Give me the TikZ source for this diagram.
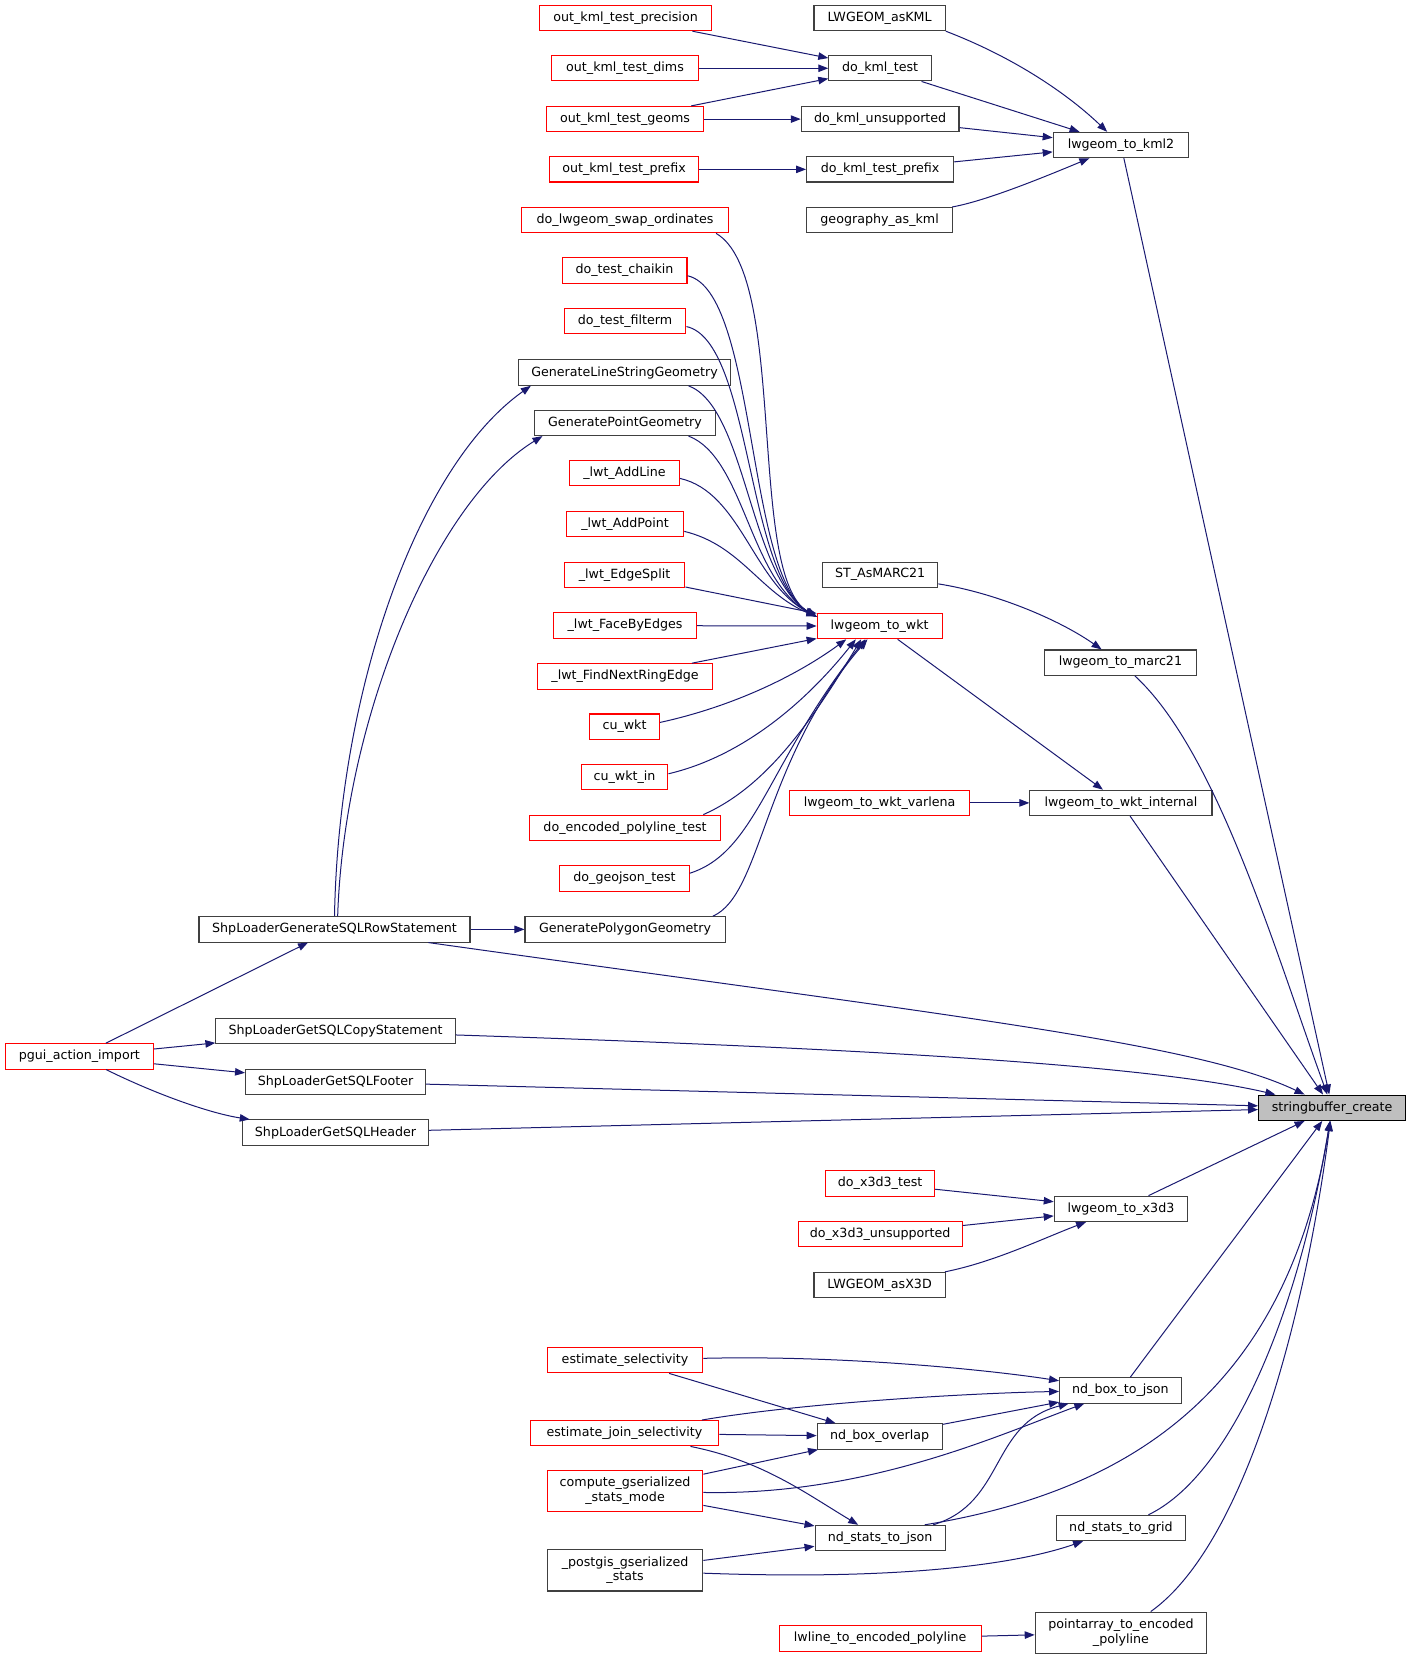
\documentclass[tikz,border=0pt]{standalone}
\usepackage{fontspec}
\setmainfont{DejaVu Sans}
\usetikzlibrary{arrows.meta,calc}
\definecolor{navy}{HTML}{191970}
\definecolor{gtwentyfive}{HTML}{404040}
\definecolor{gseventyfive}{HTML}{BFBFBF}
\definecolor{nred}{HTML}{FF0000}
\begin{document}
\begin{tikzpicture}[
 x=0.794pt, y=-0.794pt,
 nbase/.style={draw, rectangle, inner sep=0pt, minimum height=19pt, line width=0.8pt,
   font=\fontsize{9.5}{11}\selectfont, align=center, fill=white},
 bn/.style={nbase, draw=gtwentyfive},
 rn/.style={nbase, draw=nred},
 rootn/.style={nbase, draw=black, fill=gseventyfive},
 tall/.style={minimum height=31pt},
 wd/.style={minimum width=#1*0.794pt},
 ed/.style={draw=navy, line width=0.75pt, -{Triangle[length=7.5pt,width=5.6pt]}},
]
\useasboundingbox (0,0) rectangle (1333,1567.3);

% right column
\node[rootn, wd=139] (sb) at (1258.5,1046.5) {stringbuffer\_create};
\node[bn, wd=128] (kml2) at (1059,137) {lwgeom\_to\_kml2};
\node[bn, wd=143] (marc21) at (1058.5,626) {lwgeom\_to\_marc21};
\node[bn, wd=172] (wktint) at (1059,758.5) {lwgeom\_to\_wkt\_internal};
\node[bn, wd=126] (x3d3) at (1059,1142) {lwgeom\_to\_x3d3};
\node[bn, wd=115] (boxjson) at (1058.5,1313.5) {nd\_box\_to\_json};
\node[bn, wd=122] (statsgrid) at (1059,1443.5) {nd\_stats\_to\_grid};
\node[bn, wd=162, tall] (paenc) at (1059,1542.5) {pointarray\_to\_encoded\\\_polyline};

% second column
\node[bn, wd=124] (askml) at (831,17) {LWGEOM\_asKML};
\node[bn, wd=97] (kmltest) at (831.5,64.5) {do\_kml\_test};
\node[bn, wd=149] (kmlunsup) at (831.5,112.5) {do\_kml\_unsupported};
\node[bn, wd=139] (kmlprefix) at (831.5,160) {do\_kml\_test\_prefix};
\node[bn, wd=138] (geogkml) at (831,208) {geography\_as\_kml};
\node[bn, wd=109] (stmarc) at (831.5,543) {ST\_AsMARC21};
\node[rn, wd=118] (wkt) at (831,591.5) {lwgeom\_to\_wkt};
\node[rn, wd=170] (wktvar) at (831,758.5) {lwgeom\_to\_wkt\_varlena};
\node[rn, wd=103] (x3dtest) at (831.5,1118) {do\_x3d3\_test};
\node[rn, wd=155] (x3dunsup) at (831.5,1166) {do\_x3d3\_unsupported};
\node[bn, wd=124] (asx3d) at (831,1214) {LWGEOM\_asX3D};
\node[bn, wd=118] (boxov) at (831,1357) {nd\_box\_overlap};
\node[bn, wd=123] (statsjson) at (831.5,1453) {nd\_stats\_to\_json};
\node[rn, wd=191] (lwline) at (831.5,1548) {lwline\_to\_encoded\_polyline};

% third column
\node[rn, wd=162] (okprec) at (591,17) {out\_kml\_test\_precision};
\node[rn, wd=139] (okdims) at (590.5,64.5) {out\_kml\_test\_dims};
\node[rn, wd=149] (okgeoms) at (590.5,112.5) {out\_kml\_test\_geoms};
\node[rn, wd=141] (okprefix) at (589.5,160) {out\_kml\_test\_prefix};
\node[rn, wd=195] (swap) at (590.5,208) {do\_lwgeom\_swap\_ordinates};
\node[rn, wd=118] (chaikin) at (590,255.5) {do\_test\_chaikin};
\node[rn, wd=115] (filterm) at (590.5,303.5) {do\_test\_filterm};
\node[bn, wd=200] (genline) at (590,352) {GenerateLineStringGeometry};
\node[bn, wd=171] (genpoint) at (590.5,399.5) {GeneratePointGeometry};
\node[rn, wd=104] (addline) at (590,447) {\_lwt\_AddLine};
\node[rn, wd=111] (addpoint) at (590.5,495) {\_lwt\_AddPoint};
\node[rn, wd=114] (edgesplit) at (590,543) {\_lwt\_EdgeSplit};
\node[rn, wd=135] (facebyedges) at (590.5,591) {\_lwt\_FaceByEdges};
\node[rn, wd=165] (findnext) at (590.5,639) {\_lwt\_FindNextRingEdge};
\node[rn, wd=66] (cuwkt) at (590,686.5) {cu\_wkt};
\node[rn, wd=82] (cuwktin) at (590,734) {cu\_wkt\_in};
\node[rn, wd=181] (encpoly) at (590.5,782) {do\_encoded\_polyline\_test};
\node[rn, wd=122] (geojson) at (590,830) {do\_geojson\_test};
\node[bn, wd=189] (genpoly) at (590.5,878) {GeneratePolygonGeometry};
\node[rn, wd=147] (estsel) at (590.5,1285) {estimate\_selectivity};
\node[rn, wd=178] (estjoin) at (590,1354) {estimate\_join\_selectivity};
\node[rn, wd=147, tall] (compute) at (590.5,1408.5) {compute\_gserialized\\\_stats\_mode};
\node[bn, wd=147, tall] (pgstats) at (590.5,1483.5) {\_postgis\_gserialized\\\_stats};

% fourth column
\node[bn, wd=256] (rowstmt) at (316,878) {ShpLoaderGenerateSQLRowStatement};
\node[bn, wd=226] (copystmt) at (317,974) {ShpLoaderGetSQLCopyStatement};
\node[bn, wd=170] (footer) at (317,1022) {ShpLoaderGetSQLFooter};
\node[bn, wd=176] (header) at (317,1070) {ShpLoaderGetSQLHeader};
\node[rn, wd=140] (pgui) at (75,998) {pgui\_action\_import};

% KML
\draw[ed] (okprec) -- (kmltest);
\draw[ed] (okdims) -- (kmltest);
\draw[ed] (okgeoms) -- (kmltest);
\draw[ed] (okgeoms) -- (kmlunsup);
\draw[ed] (okprefix) -- (kmlprefix);
\draw[ed] (askml.south east) .. controls (960,55) and (1010,90) .. (kml2);
\draw[ed] (kmltest) -- (kml2);
\draw[ed] (kmlunsup) -- (kml2);
\draw[ed] (kmlprefix) -- (kml2);
\draw[ed] (geogkml) .. controls (930,190) and (980,170) .. (kml2);
\draw[ed] (kml2) -- (sb);

% MARC21
\draw[ed] (stmarc) .. controls (940,560) and (1000,585) .. (marc21);
\draw[ed] (marc21) .. controls (1150,710) and (1205,900) .. (sb);

% WKT
\draw[ed] ($(swap.south east)+(-12,0)$) .. controls (745,260) and (705,545) .. ($(wkt.west)+(0,-9)$);
\draw[ed] ($(chaikin.east)+(0,5)$) .. controls (715,275) and (705,545) .. ($(wkt.west)+(0,-9)$);
\draw[ed] ($(filterm.east)+(0,5)$) .. controls (710,322) and (705,545) .. ($(wkt.west)+(0,-9)$);
\draw[ed] ($(genline.south east)+(-40,0)$) .. controls (705,385) and (708,545) .. ($(wkt.west)+(0,-9)$);
\draw[ed] ($(genpoint.south east)+(-26,0)$) .. controls (703,432) and (708,548) .. ($(wkt.west)+(0,-9)$);
\draw[ed] ($(addline.east)+(0,5)$) .. controls (700,465) and (712,552) .. ($(wkt.west)+(0,-9)$);
\draw[ed] ($(addpoint.east)+(0,7)$) .. controls (700,515) and (718,560) .. ($(wkt.west)+(0,-9)$);
\draw[ed] (edgesplit) -- (wkt);
\draw[ed] (facebyedges) -- (wkt);
\draw[ed] (findnext) -- (wkt);
\draw[ed] ($(cuwkt.east)+(0,-4)$) .. controls (690,668) and (750,640) .. ($(wkt.south west)+(28,0)$);
\draw[ed] ($(cuwktin.east)+(0,-3)$) .. controls (700,715) and (760,665) .. ($(wkt.south west)+(37,0)$);
\draw[ed] ($(encpoly.north east)+(-17,0)$) .. controls (720,745) and (762,690) .. ($(wkt.south west)+(42,0)$);
\draw[ed] ($(geojson.east)+(0,-5)$) .. controls (715,805) and (725,720) .. ($(wkt.south west)+(46,0)$);
\draw[ed] ($(genpoly.north east)+(-12,0)$) .. controls (720,845) and (720,720) .. ($(wkt.south west)+(48,0)$);
\draw[ed] (wkt) -- (wktint);
\draw[ed] (wktvar) -- (wktint);
\draw[ed] (wktint) -- (sb);

% ShpLoader
\draw[ed] (rowstmt.north) .. controls (320,650) and (395,440) .. ($(genline.south west)+(12,0)$);
\draw[ed] ($(rowstmt.north)+(3,0)$) .. controls (325,680) and (410,475) .. ($(genpoint.south west)+(8,0)$);
\draw[ed] (rowstmt) -- (genpoly);
\draw[ed] (rowstmt) .. controls (900,960) and (1130,985) .. (sb);
\draw[ed] (copystmt) .. controls (800,990) and (1080,1005) .. (sb);
\draw[ed] (footer) -- (sb);
\draw[ed] (header) -- (sb);
\draw[ed] (pgui) -- (rowstmt);
\draw[ed] (pgui) -- (copystmt);
\draw[ed] (pgui) -- (footer);
\draw[ed] (pgui) .. controls (150,1035) and (200,1052) .. (header);

% X3D
\draw[ed] (x3dtest) -- (x3d3);
\draw[ed] (x3dunsup) -- (x3d3);
\draw[ed] (asx3d) .. controls (940,1192) and (985,1170) .. (x3d3);
\draw[ed] (x3d3) -- (sb);

% stats
\draw[ed] (boxjson) -- (sb);
\draw[ed] (estsel) .. controls (800,1280) and (940,1295) .. (boxjson);
\draw[ed] (estsel) -- (boxov);
\draw[ed] (estjoin) .. controls (760,1325) and (920,1316) .. (boxjson);
\draw[ed] (estjoin) -- (boxov);
\draw[ed] (estjoin) .. controls (720,1380) and (760,1410) .. (statsjson);
\draw[ed] (compute) -- (boxov);
\draw[ed] (compute) .. controls (820,1413) and (945,1355) .. (boxjson);
\draw[ed] (compute) -- (statsjson);
\draw[ed] (pgstats) -- (statsjson);
\draw[ed] (pgstats) .. controls (850,1493) and (960,1478) .. (statsgrid);
\draw[ed] (boxov) -- (boxjson);
\draw[ed] ($(statsjson.north east)+(-12,0)$) .. controls (950,1420) and (935,1345) .. (boxjson);
\draw[ed] ($(statsjson.north east)+(-20,0)$) .. controls (1060,1410) and (1215,1320) .. (sb);
\draw[ed] (statsgrid) .. controls (1160,1395) and (1225,1250) .. (sb);
\draw[ed] (paenc) .. controls (1175,1460) and (1232,1250) .. (sb);
\draw[ed] (lwline) -- (paenc);
\end{tikzpicture}
\end{document}
